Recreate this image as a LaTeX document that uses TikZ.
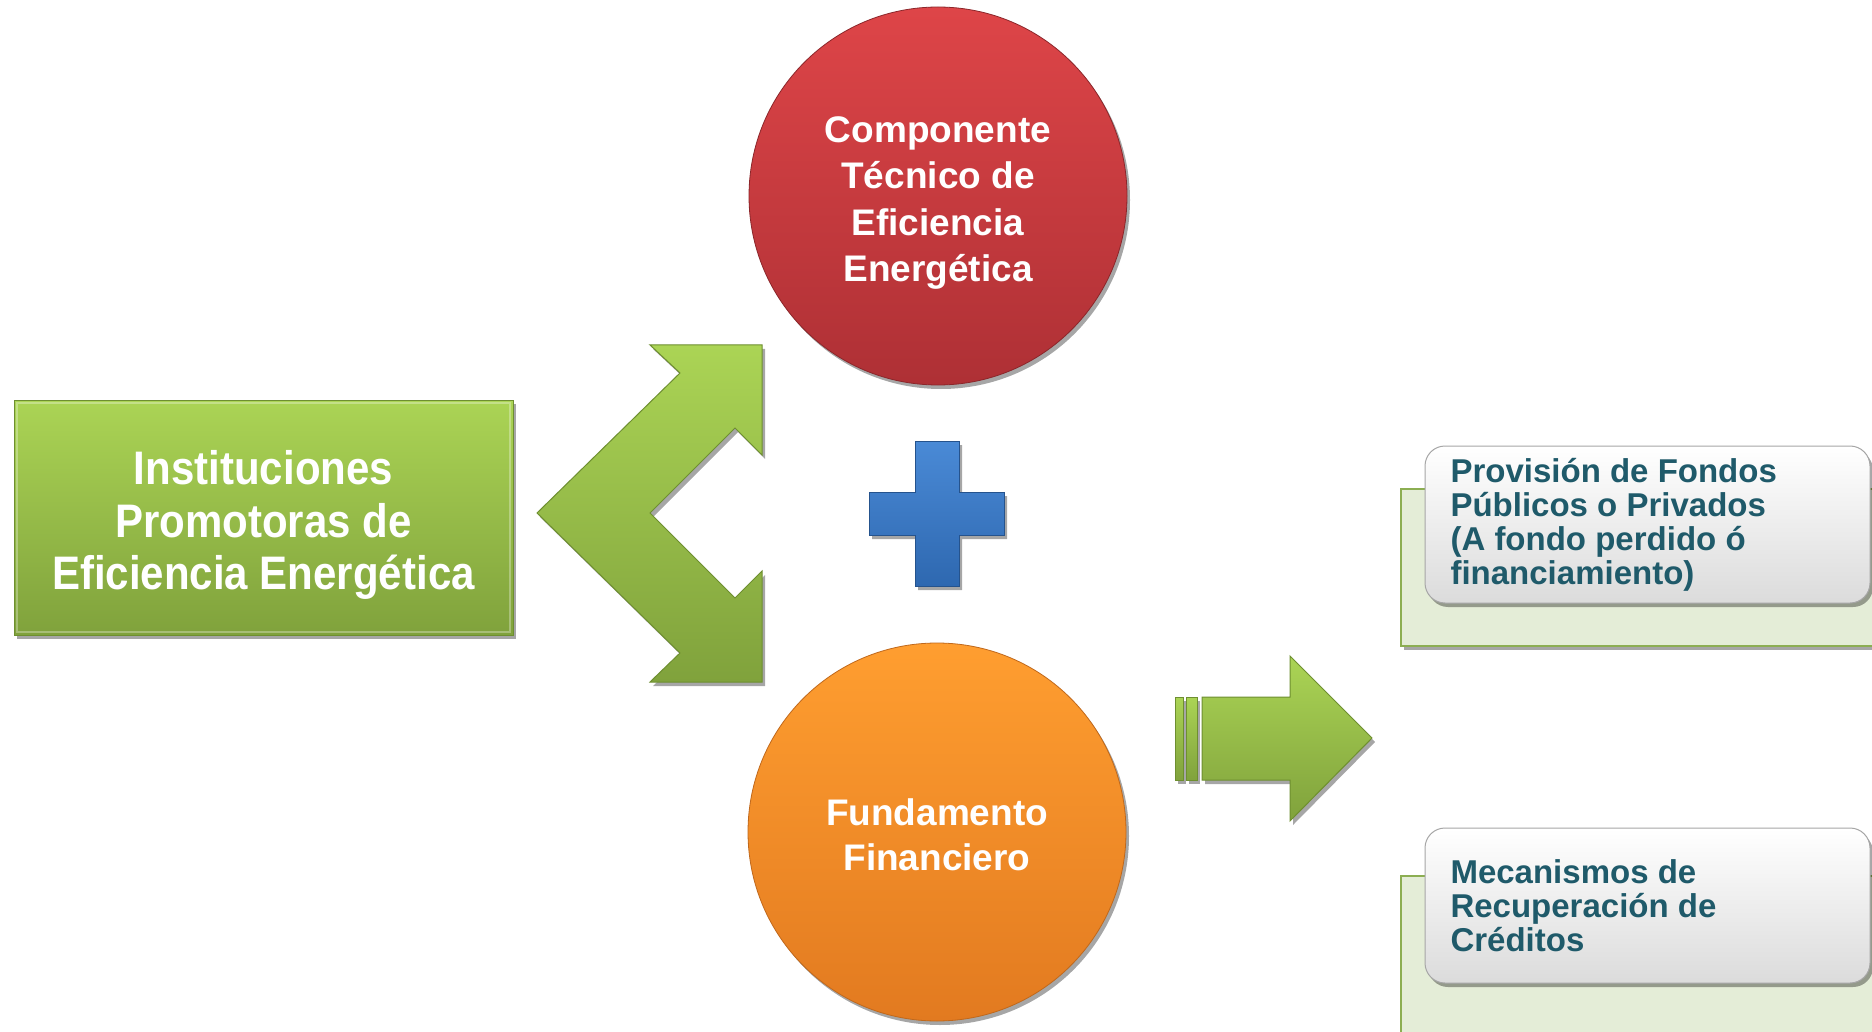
\documentclass[tikz,border=0pt]{standalone}
\usepackage{fontspec}
\setmainfont{Liberation Sans}
\usetikzlibrary{shadows}
\definecolor{gtop}{HTML}{ABD455}
\definecolor{gbot}{HTML}{80A23C}
\definecolor{gedge}{HTML}{6E8F30}
\definecolor{rtop}{HTML}{DE4548}
\definecolor{rbot}{HTML}{AE3035}
\definecolor{otop}{HTML}{FF9E30}
\definecolor{obot}{HTML}{E27A20}
\definecolor{btop}{HTML}{4A8AD6}
\definecolor{bbot}{HTML}{2E68B0}
\definecolor{tealtext}{HTML}{1F5A6A}
\definecolor{palegreen}{HTML}{E4EDD7}
\definecolor{paleedge}{HTML}{8CAE52}
\begin{document}
\begin{tikzpicture}[x=1pt,y=-1pt,
  shad/.style={drop shadow={shadow xshift=3pt,shadow yshift=-4pt,opacity=0.35,fill=black}},
  greenfill/.style={top color=gtop,bottom color=gbot,draw=gedge,line width=1pt},
  circfill/.style={circle,minimum size=#1,inner sep=0pt},
  whitelabel/.style={text=white,align=center,inner sep=0pt},
  backbox/.style={fill=palegreen,draw=paleedge,line width=1.2pt},
  frontbox/.style={rounded corners=20pt,top color=white,bottom color=black!14,draw=black!35,line width=1pt},
  teallabel/.style={anchor=west,align=left,text=tealtext,font=\fontsize{33}{34}\selectfont\bfseries},
  bevel/.style={draw=white,opacity=0.3,line width=2pt}
]
\useasboundingbox[fill=white] (0,0) rectangle (1872,1032);
\clip (0,0) rectangle (1872,1032);

% left green box
\node[greenfill,shad,minimum width=499pt,minimum height=235pt,inner sep=0pt] (inst) at (263.5,517.5) {};
\path[bevel] (17,403) rectangle (510,632);
\begin{scope}[shift={(263.5,525)},yscale=1.12]
\node[whitelabel,transform shape,font=\fontsize{42}{46.5}\selectfont\bfseries] (instlbl) at (0,0)
  {Instituciones\\Promotoras de\\Eficiencia Energética};
\end{scope}

% double chevron arrow
\path[greenfill,shad] (537,513) -- (680,373) -- (650,345) -- (762,345) -- (762,455)
  -- (735,428) -- (650,513) -- (735,598) -- (762,571) -- (762,682) -- (650,682)
  -- (680,653) -- cycle;

% red circle
\node[circfill=378pt,top color=rtop,bottom color=rbot,draw=rbot!80!black,line width=0.8pt,shad] (tec) at (938,196) {};
\node[whitelabel,font=\fontsize{37}{46.5}\selectfont\bfseries] (teclbl) at (938,203)
  {Componente\\Técnico de\\Eficiencia\\Energética};

% blue plus
\path[top color=btop,bottom color=bbot,draw=bbot!80!black,line width=0.8pt,shad]
  (915,441) -- (959,441) -- (959,492) -- (1004,492) -- (1004,535) -- (959,535)
  -- (959,586) -- (915,586) -- (915,535) -- (869,535) -- (869,492) -- (915,492) -- cycle;

% orange circle
\node[circfill=378pt,top color=otop,bottom color=obot,draw=obot!85!black,line width=0.8pt,shad] (fin) at (937,832) {};
\node[whitelabel,font=\fontsize{37}{45.5}\selectfont\bfseries] (finlbl) at (937,835)
  {Fundamento\\Financiero};

% right arrow with bars
\path[greenfill,shad] (1175,697) rectangle (1183,780);
\path[greenfill,shad] (1186,697) rectangle (1197,780);
\path[greenfill,shad] (1202,697) -- (1290,697) -- (1290,656) -- (1372,738)
  -- (1290,821) -- (1290,780) -- (1202,780) -- cycle;

% top right group
\path[backbox,shad] (1401,489) rectangle (1885,646);
\path[frontbox,shad] (1425,446) rectangle (1870,603);
\node[teallabel] (prov) at (1447,525)
  {Provisión de Fondos\\Públicos o Privados\\(A fondo perdido ó\\financiamiento)};

% bottom right group
\path[backbox,shad] (1401,876) rectangle (1885,1045);
\path[frontbox,shad] (1425,828) rectangle (1870,983);
\node[teallabel] (mec) at (1447,906)
  {Mecanismos de\\Recuperación de\\Créditos};
\end{tikzpicture}
\end{document}
